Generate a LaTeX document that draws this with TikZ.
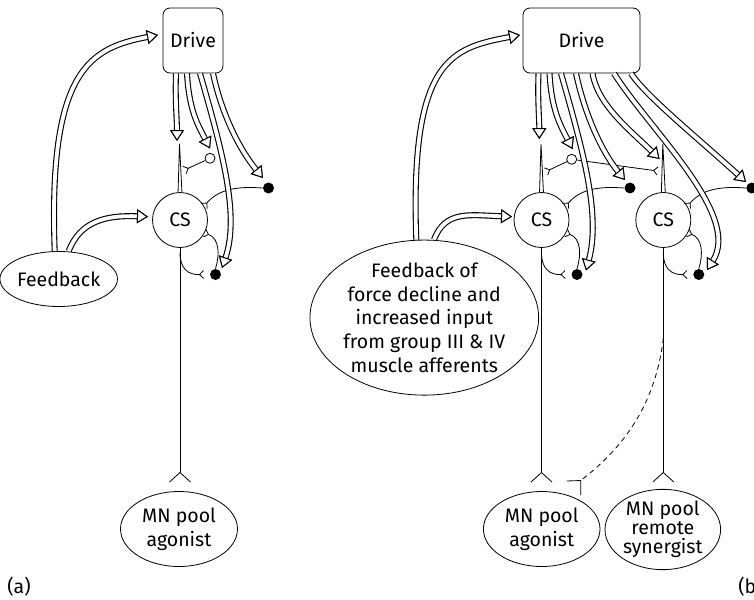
\documentclass[tikz,border=0pt]{standalone}
\usepackage{fontspec}
\setmainfont{Fira Sans}
\usetikzlibrary{arrows.meta,shapes.geometric}

% Forked synaptic ending: the line stops at the fork point and two prongs open forward
\pgfdeclarearrow{
  name = Fork,
  parameters = {\the\pgfarrowlength,\the\pgfarrowwidth},
  setup code = {
    \pgfarrowssettipend{\pgfarrowlength}
    \pgfarrowssetlineend{0pt}
    \pgfarrowssetbackend{0pt}
    \pgfarrowssetvisualtipend{\pgfarrowlength}
    \pgfarrowssavethe\pgfarrowlength
    \pgfarrowssavethe\pgfarrowwidth
  },
  drawing code = {
    \pgfpathmoveto{\pgfqpoint{\pgfarrowlength}{.5\pgfarrowwidth}}
    \pgfpathlineto{\pgfpointorigin}
    \pgfpathlineto{\pgfqpoint{\pgfarrowlength}{-.5\pgfarrowwidth}}
    \pgfusepathqstroke
  },
  defaults = {length=4pt, width=8pt}
}

\begin{document}
\begin{tikzpicture}[x=1pt, y=-1pt, line width=0.8pt,
  lbl/.style={font=\fontsize{19.5}{23.7}\selectfont, align=center},
  drivebox/.style={draw, rounded corners=7pt, minimum width=#1, minimum height=65pt, inner sep=0pt, lbl},
  soma/.style={circle, draw, minimum size=55pt, inner sep=0pt, lbl},
  pool/.style={ellipse, draw, inner sep=0pt, lbl},
  blob/.style={circle, fill, minimum size=11pt, inner sep=0pt},
  ring/.style={circle, draw, fill=white, minimum size=10pt, inner sep=0pt},
  hollow/.style={draw=white, line width=3.8pt,
    preaction={draw=black, line width=6pt},
    -{Triangle[color=black, fill=white, line width=1pt, length=11pt, width=14pt]}},
  syn/.style={-{Fork[length=4pt, width=8pt]}},
  bigsyn/.style={-{Fork[length=9.5pt, width=21pt]}},
]
\useasboundingbox (0,0) rectangle (754,599);

% ---------- corticospinal cells with their local circuitry ----------
\foreach \n/\cx in {a/180, b/541.5, c/663.3}{
  \node[soma] (cs\n) at (\cx,220) {CS};
  \coordinate (apex\n) at (\cx-0.5,144);
  \draw (cs\n.94) -- (apex\n) -- (cs\n.86);
  \coordinate (axend\n) at (\cx,482);
  \draw[bigsyn] (cs\n.south) -- (axend\n);
  \node[blob] (up\n) at (\cx+88.5,188) {};
  \node[blob] (lo\n) at (\cx+35.5,274.5) {};
  \draw[syn] (up\n.west) .. controls +(-27.5,-2) and +(14.2,-16.2) .. (cs\n.30);
  \draw[syn] (lo\n.north) .. controls +(4.5,-14) and +(14.7,5.1) .. (cs\n.-28);
  \coordinate (br\n) at (\cx,253);
  \draw[syn] (br\n) .. controls +(0,15) and +(-16,0.5) .. ([xshift=-6pt]lo\n.west);
}

% ---------- panel (a) ----------
\node[drivebox=60pt] (drva) at (193,40.5) {Drive};
\node[pool, minimum width=100pt, minimum height=55pt] (fba) at (58.7,279) {Feedback};
\node[pool, minimum width=117pt, minimum height=75pt] (mna) at (179,529) {MN pool\\agonist};

\node[ring] (ringa) at (210,158.3) {};
\coordinate (dsa) at (184.5,170);
\draw[syn] (ringa) -- (dsa);

\coordinate (ta1) at (177,141);
\coordinate (ta2) at (210,148.5);
\coordinate (ta3) at (222,268);
\coordinate (ta4) at (263,178);
\coordinate (ta5) at (158,35);
\coordinate (ta6) at (148,216.7);
\draw[hollow] ([xshift=-17pt]drva.south) .. controls +(-1,27) and +(0,-21) .. (ta1);
\draw[hollow] ([xshift=-6pt]drva.south) .. controls +(2,37) and +(-12,-23.5) .. (ta2);
\draw[hollow] ([xshift=7pt]drva.south) .. controls +(22,77) and +(18,-53) .. (ta3);
\draw[hollow] ([xshift=20pt]drva.south) .. controls +(9,42) and +(-23,-28) .. (ta4);
\draw[hollow] ([xshift=-4pt]fba.north) .. controls +(-6.7,-181.5) and +(-68,13) .. (ta5);
\draw[hollow] ([xshift=10pt]fba.north) .. controls +(11.3,-29.5) and +(-43,-1.7) .. (ta6);

\node[lbl, inner sep=0pt] (laba) at (19,587) {(a)};

% ---------- panel (b) ----------
\node[drivebox=117pt] (drvb) at (581.5,40.5) {Drive};
\node[pool, minimum width=218.6pt, minimum height=140.6pt] (fbb) at (424.3,317.6)
  {Feedback of\\force decline and\\increased input\\from group III \& IV\\muscle afferents};
\node[pool, minimum width=116.6pt, minimum height=75pt] (mnb) at (541.7,529) {MN pool\\agonist};
\node[pool, minimum width=115.6pt, minimum height=75.6pt,
  font=\fontsize{19.5}{19}\selectfont] (mnc) at (662.8,529.5) {MN pool\\remote\\synergist};

\node[ring] (ringb) at (571.7,159.3) {};
\coordinate (dsb) at (546,171.5);
\coordinate (dsc) at (657.5,171);
\draw[syn] (ringb) -- (dsb);
\draw[syn] (ringb) -- (dsc);

\coordinate (tb1) at (539.3,139);
\coordinate (tb2) at (572.5,149);
\coordinate (tb3) at (586,270.5);
\coordinate (tb4) at (625,180);
\coordinate (tb5) at (659.5,159);
\coordinate (tb6) at (707,270);
\coordinate (tb7) at (746,182);
\coordinate (tb8) at (520,35);
\coordinate (tb9) at (512,216.7);
\draw[hollow] ([xshift=-43pt]drvb.south) .. controls +(-1,27) and +(0,-21) .. (tb1);
\draw[hollow] ([xshift=-32pt]drvb.south) .. controls +(2,37) and +(-12,-23.5) .. (tb2);
\draw[hollow] ([xshift=-20.5pt]drvb.south) .. controls +(22,77) and +(15,-55.5) .. (tb3);
\draw[hollow] ([xshift=-5.5pt]drvb.south) .. controls +(9,42) and +(-23,-28) .. (tb4);
\draw[hollow] ([xshift=11pt]drvb.south) .. controls +(5.5,32) and +(-29.5,-29) .. (tb5);
\draw[hollow] ([xshift=32.5pt]drvb.south) .. controls +(36,57) and +(35,-55) .. (tb6);
\draw[hollow] ([xshift=49.5pt]drvb.south) .. controls +(14,22) and +(-46,-42) .. (tb7);
\draw[hollow] ([xshift=-8pt]fbb.north) .. controls +(-6.7,-181.5) and +(-68,13) .. (tb8);
\draw[hollow] ([xshift=9.7pt]fbb.north) .. controls +(11.3,-29.5) and +(-43,-1.7) .. (tb9);

% dashed branch from the synergist axon ending beside the agonist pool
\coordinate (dsh) at (663.3,338);
\coordinate (bar) at (580.7,480.5);
\draw[dash pattern=on 5pt off 4pt] (dsh) .. controls +(-8.3,72) and +(37.3,-28.5) .. (bar);
\draw (bar) +(-14,0.5) -- (bar) -- +(0,14.5);

\node[lbl, inner sep=0pt, anchor=west] (labb) at (738,587) {(b)};
\end{tikzpicture}
\end{document}
